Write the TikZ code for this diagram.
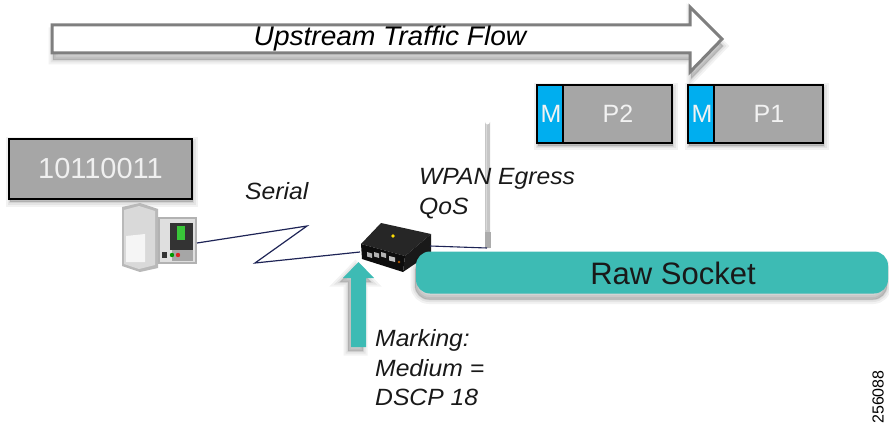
\documentclass[tikz,border=0pt]{standalone}
\usepackage{fontspec}
\setmainfont{Liberation Sans}
\usetikzlibrary{calc}

\definecolor{tealbar}{HTML}{3DBBB4}
\definecolor{pktblue}{HTML}{00AEEF}
\definecolor{pktgray}{HTML}{A6A6A6}
\definecolor{wire}{HTML}{1E2456}
\definecolor{flowgray}{HTML}{7F7F7F}

\begin{document}
\begin{tikzpicture}[x=1pt,y=-1pt,
  fs/.style={font=\fontsize{#1}{#1}\selectfont},
  % soft drop shadow built from a few translucent layers
  shd/.style={
    preaction={fill=black,draw=black,opacity=0.05,line width=9pt,transform canvas={shift={(#1)}}},
    preaction={fill=black,draw=black,opacity=0.06,line width=5pt,transform canvas={shift={(#1)}}},
    preaction={fill=black,draw=black,opacity=0.07,line width=1.5pt,transform canvas={shift={(#1)}}}},
  graybox/.style={draw=black,line width=2.6pt,fill=pktgray,inner sep=0pt,
      outer sep=0pt,shd={1,3}},
  packet/.style={graybox,minimum width=135pt,minimum height=58pt,
      path picture={
        \fill[pktblue] (path picture bounding box.north west) rectangle
          ([xshift=25pt]path picture bounding box.south west);
        \draw[line width=2.6pt]
          ([xshift=26pt]path picture bounding box.north west) --
          ([xshift=26pt]path picture bounding box.south west);}},
  pkttext/.style={fs=25,text=white!95!black,inner sep=0pt},
  label/.style={font=\fontsize{23.5}{23.5}\selectfont\itshape\addfontfeature{FakeStretch=1.05},
      text=black!90,inner sep=0pt,anchor=base west},
]
\useasboundingbox (0,0) rectangle (889,441);

% ---- upstream flow arrow ----
\path[draw=flowgray,line width=3pt,fill=white,line join=miter,shd={1,7}]
  (52,25) -- (690,25) -- (690,7) -- (722,39) -- (690,72) -- (690,53) -- (52,53) -- cycle;
\node[inner sep=0pt,anchor=base] (flow) at (390,46)
  {\fontsize{27}{27}\selectfont\itshape\addfontfeature{FakeStretch=1.04}Upstream Traffic Flow};

% ---- packets ----
\node[packet] (p2) at (604.5,114) {};
\node[pkttext] (m2) at (551,114) {M};
\node[pkttext] (t2) at (618,114) {P2};
\node[packet] (p1) at (755.5,114) {};
\node[pkttext] (m1) at (702,114) {M};
\node[pkttext] (t1) at (769,114) {P1};

% ---- serial data box ----
\node[graybox,minimum width=183pt,minimum height=60pt] (bits) at (100.5,169) {};
\node[fs=29,text=white!94!black,inner sep=0pt] (bitstext) at (100.5,169) {10110011};

% ---- RTU cabinet ----
\coordinate (rtu) at (160,238);
\fill[gray!55] (122,207) -- (140,203) -- (158,209) -- (158,268) -- (140,272) -- (122,266) -- cycle;
\fill[gray!30] (124,210) -- (139,206) -- (155,211) -- (155,265) -- (139,269) -- (124,264) -- cycle;
\fill[white!92!gray] (126,236) -- (145,234) -- (145,262) -- (126,262) -- cycle;
\fill[gray!60] (158,217) -- (197,217) -- (197,264) -- (158,264) -- cycle;
\fill[gray!25] (160,219) -- (195,219) -- (195,262) -- (160,262) -- cycle;
\fill[black!80] (170,223) -- (193,223) -- (193,250) -- (170,250) -- cycle;
\fill[green!55!gray] (177,226) -- (185,226) -- (185,240) -- (177,240) -- cycle;
\fill[gray!70] (172,250) -- (193,250) -- (193,261) -- (172,261) -- cycle;
\fill[green!60!black] (172,255) circle (2.2);
\fill[red!70!gray] (178,255) circle (2.2);
\fill[black!80] (162,252) rectangle (167,258);

% ---- router ----
\coordinate (rtrL) at (360,252);
\coordinate (rtrR) at (430,246);
\fill[black!85] (361,244) -- (381,223) -- (431,234) -- (405,256) -- cycle;
\fill[black!95] (361,244) -- (405,256) -- (403,272) -- (362,259) -- cycle;
\fill[black!90] (405,256) -- (431,234) -- (431,253) -- (403,272) -- cycle;
\fill[yellow!80!orange] (393,236) circle (1.8);
\foreach \x in {367,374,381}{
  \fill[gray!60] (\x,252) -- (\x+5,253.5) -- (\x+5,258) -- (\x,256.5) -- cycle;}
\fill[gray!50] (389,256) -- (395,257.5) -- (395,262) -- (389,260.5) -- cycle;
\fill[orange!70!black] (399,262) circle (1.3);

% ---- antenna ----
\fill[gray!45] (485,122) arc[start angle=180,end angle=0,radius=2.5] -- (490,248) -- (485,248) -- cycle;
\fill[gray!30] (486,124) rectangle (487.2,230);
\fill[gray!65] (484.5,232) rectangle (490.5,248);
\coordinate (ant) at (487,248);

% ---- raw socket bar ----
\node[fill=tealbar,rounded corners=14pt,minimum width=472pt,minimum height=42pt,
      inner sep=0pt,shd={-1,6}]
  (raw) at (652,272.5) {};
\node[fs=31,text=black!90,inner sep=0pt] (rawtext) at (673,273) {Raw Socket};

% ---- wires ----
\draw[wire,line width=1.1pt] (rtrR) -- (ant);
\draw[wire,line width=1.2pt,line join=miter] (197,243) coordinate (s0)
  -- (307,226) -- (255,263) -- (rtrL);

% ---- marking arrow ----
\fill[tealbar,shd={-3,4}]
  (351,347) -- (351,278) -- (343,278) -- (358.5,262) -- (374,278) -- (366,278) -- (366,347) -- cycle;
\coordinate (mark) at (358.5,262);

% ---- labels ----
\node[label] (serial) at (245,200) {Serial};
\node[label] (wpan) at (419,185) {WPAN Egress};
\node[label] (qos) at (419,214) {QoS};
\node[label] (mk1) at (375,346) {Marking:};
\node[label] (mk2) at (375,376) {Medium =};
\node[label] (mk3) at (375,405) {DSCP 18};

% ---- figure number ----
\node[fs=16,rotate=90,inner sep=0pt] (fignum) at (878,397) {256088};
\end{tikzpicture}
\end{document}
